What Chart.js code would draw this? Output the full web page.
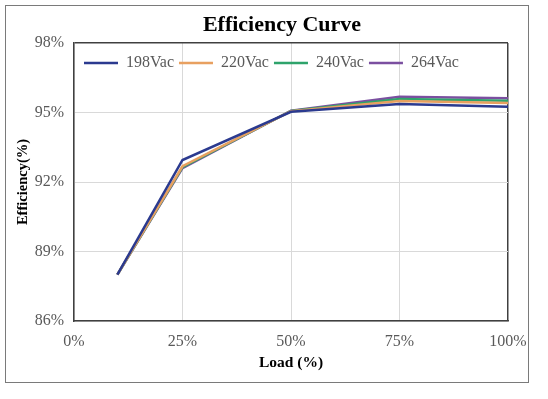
<!DOCTYPE html>
<html>
<head>
<meta charset="utf-8">
<title>Efficiency Curve</title>
<script src="https://cdn.jsdelivr.net/npm/chart.js@4.4.1/dist/chart.umd.min.js"></script>
<style>
    html, body { margin: 0; padding: 0; background: #ffffff; }
    #contenedor { position: relative; width: 548px; height: 399px; }
    #marco { position: absolute; left: 5px; top: 5px; width: 522px; height: 376px; border: 1.5px solid #7a7a7a; pointer-events: none; }
</style>
</head>
<body>
<div id="contenedor">
    <canvas id="myChart" width="548" height="399"></canvas>
    <div id="marco"></div>
</div>
<script>
// Datos
const cargas = [10, 25, 50, 75, 100] // Load (%)
const datos198 = [88.0, 92.95, 95.03, 95.37, 95.25]
const datos220 = [88.0, 92.68, 95.06, 95.50, 95.41]
const datos240 = [88.0, 92.64, 95.07, 95.58, 95.51]
const datos264 = [88.0, 92.60, 95.08, 95.68, 95.61]
const etiquetas = ['198Vac', '220Vac', '240Vac', '264Vac']
const colores = ['#2b3a8f', '#e8a060', '#2ea36b', '#7b4fa0']

const ticksX = [0, 25, 50, 75, 100]
const ticksY = [86, 89, 92, 95, 98]

const serie = (valores) => cargas.map((x, i) => ({ x: x, y: valores[i] }))

const gris = '#595959'
const serif = "'Liberation Serif', 'Times New Roman', serif"

// Plugin: coloca la leyenda dentro del area del grafico y centra el titulo
const leyendaDentro = {
    id: 'leyendaDentro',
    afterLayout: (chart) => {
        const leyenda = chart.legend
        const pad = leyenda.options.labels.padding
        leyenda.left = 84 - pad
        leyenda.top = chart.chartArea.top + 20 - 8 - pad
        leyenda.bottom = leyenda.top + 30
        chart.titleBlock.left = 56
    }
}

const ctx = document.querySelector('#myChart').getContext('2d')
const myChart = new Chart(ctx, {
    type: 'line',
    data: {
        datasets: [datos198, datos220, datos240, datos264].map((valores, i) => ({
            label: etiquetas[i],
            data: serie(valores),
            borderColor: colores[i],
            backgroundColor: colores[i],
            borderWidth: 2.5,
            pointRadius: 0,
            tension: 0
        }))
    },
    options: {
        responsive: false,
        animation: false,
        layout: { padding: { left: 0, right: 40, top: 0, bottom: 0 } },
        plugins: {
            title: {
                display: true,
                text: 'Efficiency Curve',
                color: '#000000',
                font: { family: serif, size: 22, weight: 'bold' },
                padding: { top: 12, bottom: 3.6 }
            },
            legend: {
                position: 'top',
                align: 'start',
                maxHeight: 1,
                labels: {
                    usePointStyle: true,
                    pointStyle: 'line',
                    pointStyleWidth: 34,
                    padding: 5,
                    color: gris,
                    font: { family: serif, size: 16 }
                }
            },
            tooltip: { enabled: false }
        },
        scales: {
            x: {
                type: 'linear',
                min: 0,
                max: 100,
                afterBuildTicks: (eje) => { eje.ticks = ticksX.map(v => ({ value: v })) },
                afterFit: (eje) => { eje.height = 78 },
                ticks: {
                    color: gris,
                    padding: 11,
                    maxRotation: 0,
                    font: { family: serif, size: 16 },
                    callback: (v) => v + '%'
                },
                grid: {
                    drawTicks: false,
                    color: (c) => (c.tick && c.tick.value === 100) ? '#404040' : '#d9d9d9',
                    lineWidth: (c) => (c.tick && c.tick.value === 100) ? 1.5 : 1
                },
                border: { color: '#404040', width: 1.5 },
                title: {
                    display: true,
                    text: 'Load (%)',
                    color: '#000000',
                    font: { family: serif, size: 15.5, weight: 'bold' },
                    padding: { top: 4, bottom: 27 }
                }
            },
            y: {
                min: 86,
                max: 98,
                afterBuildTicks: (eje) => { eje.ticks = ticksY.map(v => ({ value: v })) },
                afterFit: (eje) => { eje.width = 74 },
                ticks: {
                    color: gris,
                    padding: 10,
                    font: { family: serif, size: 16 },
                    callback: (v) => v + '%'
                },
                grid: {
                    drawTicks: false,
                    color: (c) => (c.tick && c.tick.value === 98) ? '#404040' : '#d9d9d9',
                    lineWidth: (c) => (c.tick && c.tick.value === 98) ? 1.5 : 1
                },
                border: { color: '#404040', width: 1.5 },
                title: {
                    display: true,
                    text: 'Efficiency(%)',
                    color: '#000000',
                    font: { family: serif, size: 14.5, weight: 'bold' },
                    padding: { top: 15, bottom: 0 }
                }
            }
        }
    },
    plugins: [leyendaDentro]
})
</script>
</body>
</html>
